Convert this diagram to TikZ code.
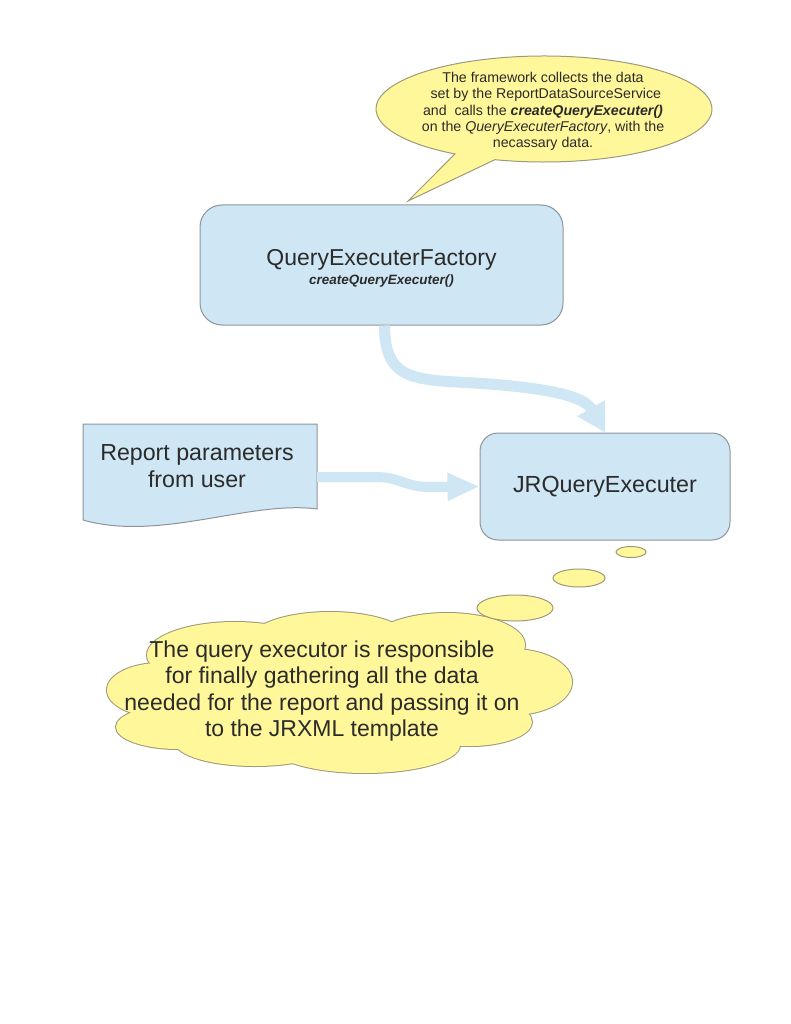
\documentclass[tikz,border=0pt]{standalone}
\usepackage{fontspec}
\setmainfont{Liberation Sans}
\usetikzlibrary{arrows.meta}
\definecolor{boxBlue}{HTML}{CFE7F5}
\definecolor{boxLine}{HTML}{8E9499}
\definecolor{noteYellow}{HTML}{FFF799}
\definecolor{noteLine}{HTML}{9C9A7A}
\definecolor{textGray}{HTML}{2B2B2B}

\tikzset{
  classbox/.style={draw=boxLine, fill=boxBlue, line width=1pt, text=textGray, align=center},
  flow/.style={draw=boxBlue, line width=11pt, -{Triangle[width=30pt,length=28pt]}},
  bubble/.style={draw=noteLine, fill=noteYellow, line width=1pt},
}

\begin{document}
\begin{tikzpicture}[x=1pt, y=-1pt, text=textGray]
  \fill[white] (0,0) rectangle (791,1024);
  \useasboundingbox (0,0) rectangle (791,1024);

  % Callout from the framework
  \draw[bubble] (544,109) ++(122:168 and 53) arc[start angle=122, end angle=467, x radius=168, y radius=53]
    -- (408,201) -- cycle;
  \node[align=center, font=\fontsize{14.2}{16.3}\selectfont] (note) at (543,111.5)
    {The framework collects the data\\
     \hspace*{0.4em}set by the ReportDataSourceService\\
     and\ \ calls the \textbf{\textit{createQueryExecuter()}}\\
     on the \textit{QueryExecuterFactory}, with the\\
     necassary data.};

  % Boxes
  \node[classbox, rounded corners=22pt, minimum width=363pt, minimum height=120pt] (factory) at (381.5,265)
    {\raisebox{-6.5pt}[0pt][0pt]{\begin{tabular}{@{}c@{}}
      {\fontsize{23}{26}\selectfont QueryExecuterFactory}\\[6pt]
      {\fontsize{13.5}{15}\selectfont\bfseries\itshape createQueryExecuter()}
     \end{tabular}}};
  \node[classbox, rounded corners=18pt, minimum width=250pt, minimum height=107pt, font=\fontsize{23.3}{27}\selectfont] (jr) at (605,486.5)
    {\raisebox{-2pt}{JRQueryExecuter}};

  % Document shape for the parameters
  \draw[draw=boxLine, fill=boxBlue, line width=1pt] (83,424) -- (317,424) -- (317,509)
    .. controls (250,500) and (160,542) .. (83,520) -- cycle;
  \node[align=center, font=\fontsize{23.2}{27}\selectfont, minimum width=234pt, minimum height=84pt] (params) at (197,466)
    {Report parameters\\from user};

  % Flows
  \draw[flow] ([xshift=3pt]factory.south) .. controls ++(0,60) and (420,379) .. (490,384)
    .. controls (550,389) and (584,396) .. (jr.north);
  \draw[flow, line width=10pt, -{Triangle[width=26pt,length=32pt]}] ([xshift=120pt, yshift=-11pt]params.center) -- (375,477)
    .. controls (400,477) and (405,487) .. (430,487) -- (jr.west);

  % Thought cloud
  \foreach \cx/\cy/\rx/\ry in {160/690/53/27, 178/727/62/22, 235/655/88/33, 330/642/82/30,
      447/645/78/32, 512/682/60/33, 470/722/62/24, 365/745/95/28, 255/742/80/24, 340/690/190/55}
    \draw[bubble, line width=2pt] (\cx,\cy) ellipse[x radius=\rx, y radius=\ry];
  \foreach \cx/\cy/\rx/\ry in {160/690/53/27, 178/727/62/22, 235/655/88/33, 330/642/82/30,
      447/645/78/32, 512/682/60/33, 470/722/62/24, 365/745/95/28, 255/742/80/24, 340/690/190/55}
    \fill[noteYellow] (\cx,\cy) ellipse[x radius=\rx, y radius=\ry];
  \draw[bubble] (515,608) ellipse[x radius=38, y radius=13];
  \draw[bubble] (579,578) ellipse[x radius=26, y radius=9];
  \draw[bubble] (631,552) ellipse[x radius=15, y radius=5.5];
  \node[align=center, font=\fontsize{23}{26.3}\selectfont] (thought) at (322,691)
    {The query executor is responsible\\
     for finally gathering all the data\\
     needed for the report and passing it on\\
     to the JRXML template};
\end{tikzpicture}
\end{document}
